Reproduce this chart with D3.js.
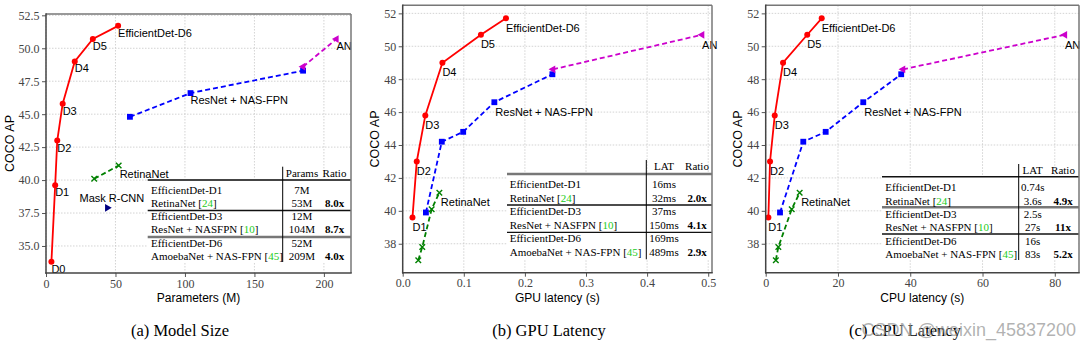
<!DOCTYPE html>
<html><head><meta charset="utf-8">
<script src="https://cdn.jsdelivr.net/npm/d3@7"></script>
<style>
html,body{margin:0;padding:0;background:#fff;}
svg{display:block;}
</style></head>
<body>
<svg id="chart" width="1086" height="353"></svg>
<script>
// ---------------- DATA ----------------
const effLabels = ["D0", "D1", "D2", "D3", "D4", "D5", "EfficientDet-D6"];
const effAP = [33.8, 39.6, 43.0, 45.8, 49.0, 50.7, 51.7];
const effParams = [3.9, 6.6, 8.1, 12, 20.7, 33.7, 51.9];
const effGPU = [null, 0.016, 0.023, 0.037, 0.065, 0.128, 0.169];
const effCPU = [null, 0.74, 1.2, 2.5, 4.8, 11.5, 15.5];

const resnetAP = [39.9, 44.2, 44.8, 46.6, 48.3];
const resnetParams = [null, null, 60.4, 104, 185];
const resnetGPU = [0.038, 0.064, 0.099, 0.150, 0.245];
const resnetCPU = [3.96, 10.4, 16.6, 27.0, 37.5];

const amoebaAP = [48.6, 50.7];
const amoebaParams = [185, 209];
const amoebaGPU = [0.246, 0.49];
const amoebaCPU = [38.0, 82.8];

const retinaAP = [37.0, 37.8, 40.1, 41.1];
const retinaParams = [null, null, 34.7, 52.3];
const retinaGPU = [0.0255, 0.032, 0.0474, 0.060];
const retinaCPU = [2.8, 3.5, 7.2, 9.4];

const maskAP = [37.9];
const maskParams = [44.1];

const tableModels = ["EfficientDet-D1", "RetinaNet", "EfficientDet-D3", "ResNet + NASFPN", "EfficientDet-D6", "AmoebaNet + NAS-FPN"];
const tableRefs = ["", "24", "", "10", "", "45"];
const paramsCol = ["7M", "53M", "12M", "104M", "52M", "209M"];
const paramsRatio = ["", "8.0x", "", "8.7x", "", "4.0x"];
const gpuCol = ["16ms", "32ms", "37ms", "150ms", "169ms", "489ms"];
const gpuRatio = ["", "2.0x", "", "4.1x", "", "2.9x"];
const cpuCol = ["0.74s", "3.6s", "2.5s", "27s", "16s", "83s"];
const cpuRatio = ["", "4.9x", "", "11x", "", "5.2x"];

const paramsXTicks = [0, 50, 100, 150, 200];
const paramsYTicks = [35, 37.5, 40, 42.5, 45, 47.5, 50, 52.5];
const gpuXTicks = [0, 0.1, 0.2, 0.3, 0.4, 0.5];
const cpuXTicks = [0, 20, 40, 60, 80];
const latYTicks = [38, 40, 42, 44, 46, 48, 50, 52];

const captions = ["(a) Model Size", "(b) GPU Latency", "(c) CPU Latency"];

// ---------------- DRAW ----------------
const svg = d3.select("#chart");
svg.append("rect").attr("width", 1086).attr("height", 353).attr("fill", "#fff");

const SANS = "'Liberation Sans', Arial, Helvetica, sans-serif";
const SERIF = "'Liberation Serif', 'Times New Roman', serif";
const RED = "#ff0000", BLUE = "#0000ff", GREEN = "#008000", MAG = "#cc00cc", NAVY = "#000080";

function pairs(xs, ys) {
  const out = [];
  xs.forEach((v, i) => { if (v !== null && v !== undefined) out.push({x: v, y: ys[i], i}); });
  return out;
}

function drawMarker(g, type, px, py, color) {
  if (type === "circle") {
    g.append("circle").attr("cx", px).attr("cy", py).attr("r", 3).attr("fill", color);
  } else if (type === "square") {
    g.append("path").attr("d", d3.symbol(d3.symbolSquare, 34)()).attr("transform", `translate(${px},${py})`).attr("fill", color);
  } else if (type === "x") {
    g.append("path").attr("d", d3.symbol(d3.symbolTimes, 22)()).attr("transform", `translate(${px},${py})`)
      .attr("fill", "none").attr("stroke", color).attr("stroke-width", 1.4);
  } else if (type === "tleft") {
    g.append("path").attr("d", d3.symbol(d3.symbolTriangle, 26)()).attr("transform", `translate(${px},${py}) rotate(-90)`).attr("fill", color);
  } else if (type === "tright") {
    g.append("path").attr("d", d3.symbol(d3.symbolTriangle, 26)()).attr("transform", `translate(${px},${py}) rotate(90)`).attr("fill", color);
  }
}

function drawSeries(g, x, y, pts, opt) {
  const line = d3.line().x(d => x(d.x)).y(d => y(d.y));
  if (pts.length > 1) {
    g.append("path").attr("d", line(pts)).attr("fill", "none").attr("stroke", opt.color)
      .attr("stroke-width", opt.width || 1.8).attr("stroke-dasharray", opt.dash || null);
  }
  pts.forEach(p => drawMarker(g, opt.marker, x(p.x), y(p.y), opt.color));
}

function label(g, px, py, txt, dy, anchor) {
  g.append("text").attr("x", px).attr("y", py + dy).attr("font-family", SANS).attr("font-size", 11)
    .attr("fill", "#000").attr("text-anchor", anchor || "start").text(txt);
}

function drawPanel(cfg) {
  const g = svg.append("g");
  const x = d3.scaleLinear().domain(cfg.xDomain).range([cfg.x0, cfg.x1]);
  const y = d3.scaleLinear().domain(cfg.yDomain).range([cfg.y1, cfg.y0]);

  // grid
  const grid = g.append("g").attr("stroke", "#c8c8c8").attr("stroke-width", 0.8).attr("stroke-dasharray", "1.5,1.5");
  cfg.xTicks.forEach(t => grid.append("line").attr("x1", x(t)).attr("x2", x(t)).attr("y1", cfg.y0).attr("y2", cfg.y1));
  cfg.yTicks.forEach(t => grid.append("line").attr("y1", y(t)).attr("y2", y(t)).attr("x1", cfg.x0).attr("x2", cfg.x1));

  // table (white background covering grid)
  const T = cfg.table;
  g.append("rect").attr("x", T.left).attr("y", T.rule - 1).attr("width", cfg.x1 - T.left - 0.5)
    .attr("height", T.bottom - T.rule + 1).attr("fill", "#fff");

  // series
  cfg.series.forEach(s => drawSeries(g, x, y, s.pts, s));
  cfg.labels.forEach(l => label(g, x(l.x) + (l.dx || 0), y(l.y), l.text, l.dy, l.anchor));

  // table lines
  const tl = g.append("g");
  tl.append("line").attr("x1", T.left).attr("x2", cfg.x1).attr("y1", T.rule).attr("y2", T.rule)
    .attr("stroke", T.ruleColor).attr("stroke-width", T.ruleW);
  T.lines.forEach((ly, k) => tl.append("line").attr("x1", T.left).attr("x2", cfg.x1).attr("y1", ly).attr("y2", ly)
    .attr("stroke", T.lineColors[k]).attr("stroke-width", T.lineW[k]));
  tl.append("line").attr("x1", T.vline).attr("x2", T.vline).attr("y1", T.vTop).attr("y2", T.bottom)
    .attr("stroke", "#000").attr("stroke-width", 1);

  const tt = g.append("g").attr("font-family", SERIF).attr("font-size", 11).attr("fill", "#000");
  tt.append("text").attr("x", T.c1).attr("y", T.header + 3.8).attr("text-anchor", "middle").text(T.h1);
  tt.append("text").attr("x", T.c2).attr("y", T.header + 3.8).attr("text-anchor", "middle").text("Ratio");
  tableModels.forEach((m, i) => {
    const yy = T.rows[i] + 3.8;
    const t = tt.append("text").attr("x", T.textX).attr("y", yy);
    t.append("tspan").text(m);
    if (tableRefs[i]) {
      t.append("tspan").text(" [");
      t.append("tspan").attr("fill", "#22cc22").text(tableRefs[i]);
      t.append("tspan").text("]");
    }
    tt.append("text").attr("x", T.c1).attr("y", yy).attr("text-anchor", "middle").text(T.col[i]);
    if (T.ratio[i]) tt.append("text").attr("x", T.c2).attr("y", yy).attr("text-anchor", "middle")
      .attr("font-weight", "bold").text(T.ratio[i]);
  });

  // axes
  const ax = g.append("g").attr("transform", `translate(0,${cfg.y1})`)
    .call(d3.axisBottom(x).tickValues(cfg.xTicks).tickFormat(cfg.xFmt).tickSize(4).tickPadding(2));
  const ay = g.append("g").attr("transform", `translate(${cfg.x0},0)`)
    .call(d3.axisLeft(y).tickValues(cfg.yTicks).tickFormat(cfg.yFmt).tickSize(4).tickPadding(2.5));
  [ax, ay].forEach(a => {
    a.select(".domain").remove();
    a.selectAll("line").attr("stroke", "#555").attr("stroke-width", 1);
    a.selectAll("text").attr("font-family", SERIF).attr("font-size", 12).attr("fill", "#444");
  });

  // frame
  g.append("line").attr("x1", cfg.x0).attr("x2", cfg.x1).attr("y1", cfg.y0).attr("y2", cfg.y0).attr("stroke", "#777").attr("stroke-width", 1.5);
  g.append("line").attr("x1", cfg.x1).attr("x2", cfg.x1).attr("y1", cfg.y0).attr("y2", cfg.y1).attr("stroke", "#777").attr("stroke-width", 1.5);
  g.append("line").attr("x1", cfg.x0).attr("x2", cfg.x0).attr("y1", cfg.y0 - 0.75).attr("y2", cfg.y1 + 0.75).attr("stroke", "#444").attr("stroke-width", 1.5);
  g.append("line").attr("x1", cfg.x0 - 0.75).attr("x2", cfg.x1 + 0.75).attr("y1", cfg.y1).attr("y2", cfg.y1).attr("stroke", "#444").attr("stroke-width", 1.5);

  // titles
  g.append("text").attr("x", (cfg.x0 + cfg.x1) / 2).attr("y", 302).attr("text-anchor", "middle")
    .attr("font-family", SANS).attr("font-size", 12).text(cfg.xTitle);
  g.append("text").attr("transform", `translate(${cfg.yTitleX},${(cfg.y0 + cfg.y1) / 2}) rotate(-90)`)
    .attr("text-anchor", "middle").attr("font-family", SANS).attr("font-size", 12.5).text("COCO AP");
  g.append("text").attr("x", cfg.capX).attr("y", 336).attr("text-anchor", "middle")
    .attr("font-family", SERIF).attr("font-size", 16.5).text(cfg.caption);
}

// Panel (a)
(function () {
  const effPts = pairs(effParams, effAP);
  const labels = effPts.map(p => ({x: p.x, y: p.y, text: effLabels[p.i], dy: 11}));
  drawPanel({
    x0: 46, x1: 351, y0: 14, y1: 273, xDomain: [0, 219.5], yDomain: [32.95, 52.6],
    xTicks: paramsXTicks, yTicks: paramsYTicks, xFmt: d3.format("d"), yFmt: d3.format(".1f"),
    xTitle: "Parameters (M)", yTitleX: 13.5, caption: captions[0], capX: 180,
    series: [
      {pts: pairs(resnetParams, resnetAP), color: BLUE, dash: "5,3", marker: "square"},
      {pts: pairs(amoebaParams, amoebaAP), color: MAG, dash: "5,3", marker: "tleft"},
      {pts: pairs(retinaParams, retinaAP), color: GREEN, dash: "5,3", marker: "x"},
      {pts: pairs(maskParams, maskAP), color: NAVY, marker: "tright"},
      {pts: effPts, color: RED, marker: "circle", width: 1.8}
    ],
    labels: labels.concat([
      {x: resnetParams[3], y: resnetAP[3], text: "ResNet + NAS-FPN", dy: 11},
      {x: amoebaParams[1], y: amoebaAP[1], text: "AN", dy: 11},
      {x: retinaParams[3], y: retinaAP[3], text: "RetinaNet", dy: 12, dx: 1},
      {x: maskParams[0], y: maskAP[0], text: "Mask R-CNN", dy: -6, dx: 37, anchor: "end"}
    ]),
    table: {left: 147.7, textX: 151, vline: 282.7, vTop: 166.7, bottom: 262, c1: 302, c2: 334.5,
      header: 172.7, h1: "Params", rule: 180, ruleColor: "#444", ruleW: 2,
      rows: [190, 203, 216.5, 229.5, 243, 256], lines: [210.5, 237],
      lineColors: ["#111", "#777"], lineW: [1.5, 2.5], col: paramsCol, ratio: paramsRatio}
  });
})();

// Panel (b)
(function () {
  const effPts = pairs(effGPU, effAP);
  drawPanel({
    x0: 402.7, x1: 712, y0: 5.3, y1: 272.7, xDomain: [0, 0.5062], yDomain: [36.24, 52.49],
    xTicks: gpuXTicks, yTicks: latYTicks, xFmt: d3.format(".1f"), yFmt: d3.format("d"),
    xTitle: "GPU latency (s)", yTitleX: 379, caption: captions[1], capX: 549,
    series: [
      {pts: pairs(resnetGPU, resnetAP), color: BLUE, dash: "5,3", marker: "square"},
      {pts: pairs(amoebaGPU, amoebaAP), color: MAG, dash: "5,3", marker: "tleft"},
      {pts: pairs(retinaGPU, retinaAP), color: GREEN, dash: "5,3", marker: "x"},
      {pts: effPts, color: RED, marker: "circle", width: 1.8}
    ],
    labels: effPts.map(p => ({x: p.x, y: p.y, text: effLabels[p.i], dy: 13.5})).concat([
      {x: resnetGPU[3], y: resnetAP[3], text: "ResNet + NAS-FPN", dy: 13.5, dx: 1},
      {x: amoebaGPU[1], y: amoebaAP[1], text: "AN", dy: 14},
      {x: retinaGPU[3], y: retinaAP[3], text: "RetinaNet", dy: 13.5, dx: 1.5}
    ]),
    table: {left: 507, textX: 509.7, vline: 646.3, vTop: 160, bottom: 259.3, c1: 664, c2: 697,
      header: 166, h1: "LAT", rule: 174, ruleColor: "#777", ruleW: 2.5,
      rows: [184, 197.7, 211, 224.7, 238.3, 252], lines: [205, 232.3],
      lineColors: ["#111", "#111"], lineW: [1.3, 1.3], col: gpuCol, ratio: gpuRatio}
  });
})();

// Panel (c)
(function () {
  const effPts = pairs(effCPU, effAP);
  drawPanel({
    x0: 765.7, x1: 1079, y0: 5.3, y1: 272.7, xDomain: [0, 86.7], yDomain: [36.24, 52.49],
    xTicks: cpuXTicks, yTicks: latYTicks, xFmt: d3.format("d"), yFmt: d3.format("d"),
    xTitle: "CPU latency (s)", yTitleX: 742, caption: captions[2], capX: 905,
    series: [
      {pts: pairs(resnetCPU, resnetAP), color: BLUE, dash: "5,3", marker: "square"},
      {pts: pairs(amoebaCPU, amoebaAP), color: MAG, dash: "5,3", marker: "tleft"},
      {pts: pairs(retinaCPU, retinaAP), color: GREEN, dash: "5,3", marker: "x"},
      {pts: effPts, color: RED, marker: "circle", width: 1.8}
    ],
    labels: effPts.map(p => ({x: p.x, y: p.y, text: effLabels[p.i], dy: 13.5})).concat([
      {x: resnetCPU[3], y: resnetAP[3], text: "ResNet + NAS-FPN", dy: 13.5, dx: 1},
      {x: amoebaCPU[1], y: amoebaAP[1], text: "AN", dy: 14},
      {x: retinaCPU[3], y: retinaAP[3], text: "RetinaNet", dy: 13.5, dx: 1.5}
    ]),
    table: {left: 882, textX: 885.3, vline: 1018.7, vTop: 164, bottom: 260, c1: 1032.7, c2: 1063,
      header: 170, h1: "LAT", rule: 176.7, ruleColor: "#111", ruleW: 1.5,
      rows: [187.3, 201, 214, 227.3, 240.7, 253.7], lines: [207.3, 234],
      lineColors: ["#777", "#111"], lineW: [2.5, 1.3], col: cpuCol, ratio: cpuRatio}
  });
})();

// watermark
svg.append("text").attr("x", 1076).attr("y", 336).attr("text-anchor", "end")
  .attr("font-family", SANS).attr("font-size", 18).attr("fill", "#999").attr("fill-opacity", 0.75)
  .text("CSDN @weixin_45837200");
</script>
</body></html>
